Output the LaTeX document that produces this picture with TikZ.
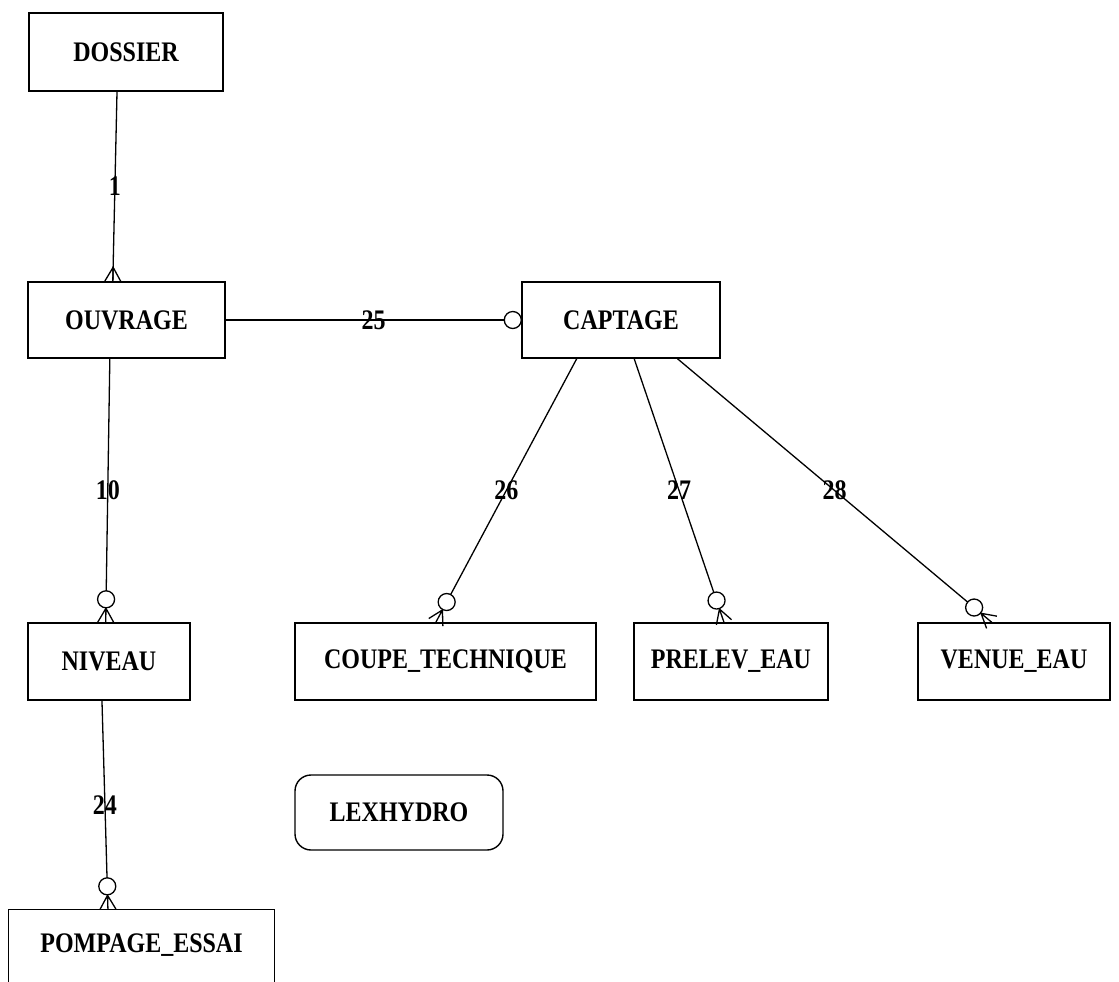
\documentclass[tikz,border=0pt]{standalone}
\usepackage{fontspec}
\usepackage{graphicx}
\setmainfont{Liberation Serif}
\usetikzlibrary{calc}
\newcommand\tall[1]{\scalebox{1}[1.18]{#1}}
\newcommand\crowfoot[2]{% #1 from, #2 end on the box border
  \draw[conn] ($(#2)!14pt!(#1)$) -- ($(#2)!8pt!90:(#1)$)
              ($(#2)!14pt!(#1)$) -- (#2)
              ($(#2)!14pt!(#1)$) -- ($(#2)!8pt!-90:(#1)$);}
\newcommand\optmany[3]{% #1 from, #2 to, #3 label
  \path (#1) -- node[lbl]{\tall{#3}} (#2);
  \draw[conn] (#1) -- ($(#2)!31.5pt!(#1)$);
  \draw[conn] ($(#2)!23pt!(#1)$) circle[radius=8.5pt];
  \crowfoot{#1}{#2}}
\begin{document}
\begin{tikzpicture}[x=1pt,y=-1pt,
  ent/.style={draw, line width=1.4pt, font=\bfseries\fontsize{24}{28}\selectfont, inner sep=0pt},
  lbl/.style={font=\bfseries\fontsize{24}{28}\selectfont, inner sep=0pt},
  conn/.style={line width=1.3pt}]
\useasboundingbox (0,0) rectangle (1119,982);
% entities
\node[ent, minimum width=194pt, minimum height=78pt] (dossier) at (126,52) {\tall{DOSSIER}};
\node[ent, minimum width=197pt, minimum height=76pt] (ouvrage) at (126.5,320) {\tall{OUVRAGE}};
\node[ent, minimum width=198pt, minimum height=76pt] (captage) at (621,320) {\tall{CAPTAGE}};
\node[ent, minimum width=162pt, minimum height=77pt] (niveau) at (109,661.5) {\tall{NIVEAU}};
\node[ent, minimum width=301pt, minimum height=77pt] (coupe) at (445.5,661.5) {\tall{COUPE\_TECHNIQUE}};
\node[ent, minimum width=194pt, minimum height=77pt] (prelev) at (731,661.5) {\tall{PRELEV\_EAU}};
\node[ent, minimum width=192pt, minimum height=77pt] (venue) at (1014,661.5) {\tall{VENUE\_EAU}};
\node[ent, draw=none, minimum width=265pt, minimum height=70pt] (pompage) at (141.5,945) {\tall{POMPAGE\_ESSAI}};
\draw[line width=1.4pt] ([yshift=-30pt]pompage.south west) |- (pompage.north east) -- ([yshift=-30pt]pompage.south east);
\node[ent, rounded corners=16pt, minimum width=208pt, minimum height=75pt] (lex) at (399,812.5) {\tall{LEXHYDRO}};
% connection points
\coordinate (d1) at ($(dossier.south west)!0.454!(dossier.south east)$);
\coordinate (o1) at ($(ouvrage.north west)!0.431!(ouvrage.north east)$);
\coordinate (o2) at ($(ouvrage.south west)!0.416!(ouvrage.south east)$);
\coordinate (n1) at ($(niveau.north west)!0.48!(niveau.north east)$);
\coordinate (n2) at ($(niveau.south west)!0.457!(niveau.south east)$);
\coordinate (p1) at ($(pompage.north west)!0.374!(pompage.north east)$);
\coordinate (c26) at ($(captage.south west)!0.278!(captage.south east)$);
\coordinate (c27) at ($(captage.south west)!0.566!(captage.south east)$);
\coordinate (c28) at ($(captage.south west)!0.783!(captage.south east)$);
\coordinate (e26) at ($(coupe.north west)!0.468!(coupe.north east)$);
\coordinate (e27) at ($(prelev.north west)!0.464!(prelev.north east)$);
\coordinate (e28) at ($(venue.north west)!0.385!(venue.north east)$);
% relations
\draw[conn] (d1) -- node[lbl]{\tall{1}} (o1);
\crowfoot{d1}{o1}
\path (ouvrage.east) -- node[lbl]{\tall{25}} (captage.west);
\draw[conn] (ouvrage.east) -- ($(captage.west)!17pt!(ouvrage.east)$);
\draw[conn] ($(captage.west)!8.5pt!(ouvrage.east)$) circle[radius=8.5pt];
\optmany{o2}{n1}{10}
\optmany{n2}{p1}{24}
\optmany{c26}{e26}{26}
\optmany{c27}{e27}{27}
\optmany{c28}{e28}{28}
\end{tikzpicture}
\end{document}
